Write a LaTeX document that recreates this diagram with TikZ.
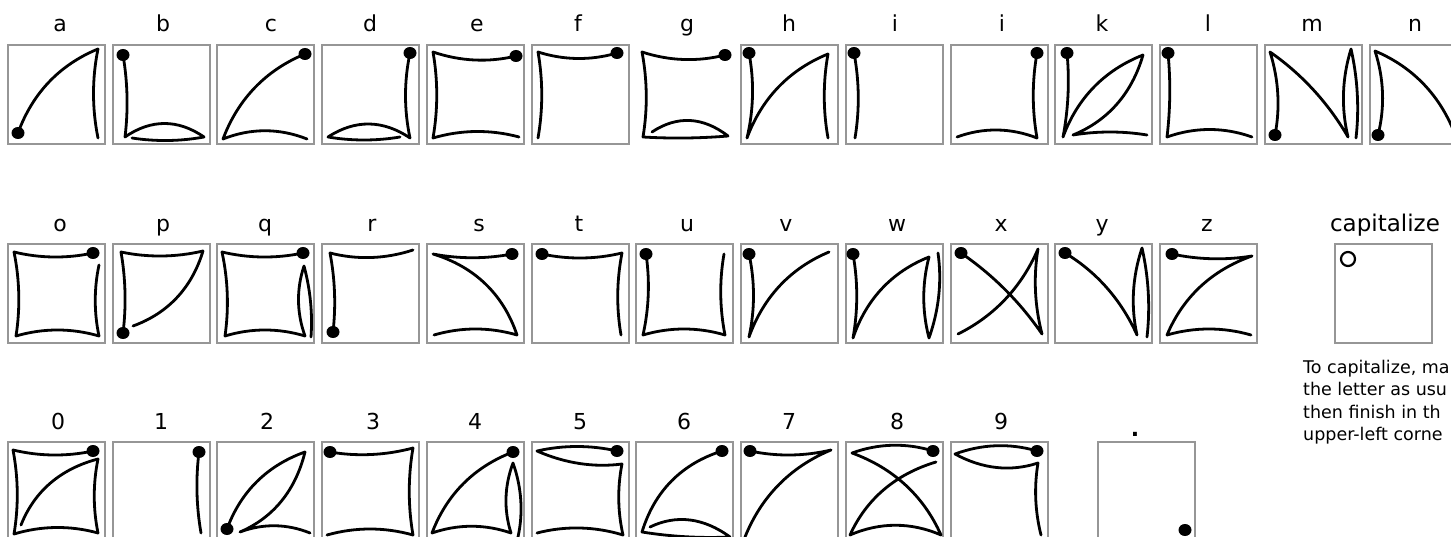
\documentclass[tikz,border=0pt]{standalone}
\usepackage{fontspec}
\setmainfont{DejaVu Sans}
\usetikzlibrary{calc}
\newcommand\crv[3]{.. controls ($#1!0.33!#2+#3-(0,0)$) and ($#1!0.67!#2+#3-(0,0)$) .. #2}
\tikzset{
  frame/.style={draw={rgb,255:red,150;green,150;blue,150}, line width=1.2pt},
  stk/.style={draw=black, line width=2.8pt, line cap=round, line join=round},
  lbl/.style={anchor=base, inner sep=0pt, font=\fontsize{22}{22}\selectfont},
  txt/.style={anchor=base west, inner sep=0pt, font=\fontsize{17.5}{17.5}\selectfont},
}
\newcommand\dotat[1]{\fill #1 circle[x radius=6.5, y radius=6];}
\begin{document}
\begin{tikzpicture}[x=1pt,y=-1pt]
\useasboundingbox (0,0) rectangle (1451,537);
\clip (0,0) rectangle (1451,537);
\fill[white] (0,0) rectangle (1451,537);
% ---------------- labels row 1
\node[lbl] (la) at (60,32) {a};
\node[lbl] (lb) at (163,32) {b};
\node[lbl] (lc) at (271,32) {c};
\node[lbl] (ld) at (370,32) {d};
\node[lbl] (le) at (477,32) {e};
\node[lbl] (lf) at (578,32) {f};
\node[lbl] (lg) at (687,32) {g};
\node[lbl] (lh) at (789,32) {h};
\node[lbl] (li) at (895,32) {i};
\node[lbl] (lj) at (1002,32) {i};
\node[lbl] (lk) at (1102,32) {k};
\node[lbl] (ll) at (1208,32) {l};
\node[lbl] (lm) at (1312,32) {m};
\node[lbl] (ln) at (1415,32) {n};
% ---------------- labels row 2
\node[lbl] (lo) at (60,232) {o};
\node[lbl] (lp) at (163,232) {p};
\node[lbl] (lq) at (265,232) {q};
\node[lbl] (lr) at (372,232) {r};
\node[lbl] (ls) at (479,232) {s};
\node[lbl] (lt) at (579,232) {t};
\node[lbl] (lu) at (687,232) {u};
\node[lbl] (lv) at (786,232) {v};
\node[lbl] (lw) at (897,232) {w};
\node[lbl] (lx) at (1001,232) {x};
\node[lbl] (ly) at (1102,232) {y};
\node[lbl] (lz) at (1207,232) {z};
\node[anchor=base, inner sep=0pt, font=\fontsize{23}{23}\selectfont] (lcap) at (1385,232) {capitalize};
% ---------------- labels row 3
\node[lbl] (l0) at (58,429) {0};
\node[lbl] (l1) at (161,429) {1};
\node[lbl] (l2) at (267,429) {2};
\node[lbl] (l3) at (373,429) {3};
\node[lbl] (l4) at (475,429) {4};
\node[lbl] (l5) at (580,429) {5};
\node[lbl] (l6) at (684,429) {6};
\node[lbl] (l7) at (789,429) {7};
\node[lbl] (l8) at (897,429) {8};
\node[lbl] (l9) at (1001,429) {9};
\node[lbl, font=\bfseries\fontsize{22}{22}\selectfont] (lper) at (1135,436) {.};
% ---------------- text
\node[txt] (t1) at (1303,373) {To capitalize, ma};
\node[txt] (t2) at (1303,395.5) {the letter as usu};
\node[txt] (t3) at (1303,418) {then finish in th};
\node[txt] (t4) at (1303,440.5) {upper-left corne};

% ================= ROW 1 (y=45)
\begin{scope}[shift={(8,45)}] % a
\draw[frame] (0,0) rectangle (97,99);
\dotat{(10,88)}
\draw[stk] (10,88) \crv{(10,88)}{(90,4)}{(-12,-12)} \crv{(90,4)}{(90,93)}{(-6,0)};
\end{scope}
\begin{scope}[shift={(113,45)}] % b
\draw[frame] (0,0) rectangle (97,99);
\dotat{(10,10)}
\draw[stk] (10,10) \crv{(10,10)}{(12,92)}{(4,0)} \crv{(12,92)}{(91,92)}{(0,-18)} \crv{(91,92)}{(19,93)}{(0,4)};
\end{scope}
\begin{scope}[shift={(217,45)}] % c
\draw[frame] (0,0) rectangle (97,99);
\dotat{(88,9)}
\draw[stk] (88,9) \crv{(88,9)}{(6,94)}{(-12,-12)} \crv{(6,94)}{(90,94)}{(0,-11)};
\end{scope}
\begin{scope}[shift={(322,45)}] % d
\draw[frame] (0,0) rectangle (97,99);
\dotat{(88,8)}
\draw[stk] (88,8) \crv{(88,8)}{(88,93)}{(-6,0)} \crv{(88,93)}{(6,92)}{(0,-18)} \crv{(6,92)}{(78,92)}{(0,4)};
\end{scope}
\begin{scope}[shift={(427,45)}] % e
\draw[frame] (0,0) rectangle (97,99);
\dotat{(89,11)}
\draw[stk] (89,11) \crv{(89,11)}{(6,7)}{(0,8)} \crv{(6,7)}{(6,93)}{(5,0)} \crv{(6,93)}{(92,92)}{(0,-8)};
\end{scope}
\begin{scope}[shift={(532,45)}] % f
\draw[frame] (0,0) rectangle (97,99);
\dotat{(85,8)}
\draw[stk] (85,8) \crv{(85,8)}{(6,7)}{(0,8)} \crv{(6,7)}{(6,93)}{(5,0)};
\end{scope}
\begin{scope}[shift={(636,45)}] % g (no frame)
\dotat{(89,10)}
\draw[stk] (89,10) \crv{(89,10)}{(6,7)}{(0,8)} \crv{(6,7)}{(7,92)}{(5,0)} \crv{(7,92)}{(92,91)}{(0,2)} \crv{(92,91)}{(16,87)}{(0,-18)};
\end{scope}
\begin{scope}[shift={(741,45)}] % h
\draw[frame] (0,0) rectangle (97,99);
\dotat{(8,8)}
\draw[stk] (8,8) \crv{(8,8)}{(6,93)}{(6,0)} \crv{(6,93)}{(87,9)}{(-12,-12)} \crv{(87,9)}{(87,93)}{(-5,0)};
\end{scope}
\begin{scope}[shift={(846,45)}] % i
\draw[frame] (0,0) rectangle (97,99);
\dotat{(8,8)}
\draw[stk] (8,8) \crv{(8,8)}{(9,93)}{(5,0)};
\end{scope}
\begin{scope}[shift={(951,45)}] % i (second)
\draw[frame] (0,0) rectangle (97,99);
\dotat{(86,8)}
\draw[stk] (86,8) \crv{(86,8)}{(86,93)}{(-5,0)} \crv{(86,93)}{(6,92)}{(0,-10)};
\end{scope}
\begin{scope}[shift={(1055,45)}] % k
\draw[frame] (0,0) rectangle (97,99);
\dotat{(12,8)}
\draw[stk] (12,8) \crv{(12,8)}{(8,92)}{(4,0)} \crv{(8,92)}{(88,10)}{(-12,-12)} \crv{(88,10)}{(18,90)}{(12,12)} \crv{(18,90)}{(92,90)}{(0,-4)};
\end{scope}
\begin{scope}[shift={(1160,45)}] % l
\draw[frame] (0,0) rectangle (97,99);
\dotat{(8,8)}
\draw[stk] (8,8) \crv{(8,8)}{(7,92)}{(3,0)} \crv{(7,92)}{(92,92)}{(0,-10)};
\end{scope}
\begin{scope}[shift={(1265,45)}] % m
\draw[frame] (0,0) rectangle (97,99);
\dotat{(10,90)}
\draw[stk] (10,90) \crv{(10,90)}{(5,7)}{(7,0)} \crv{(5,7)}{(83,92)}{(6,-6)} \crv{(83,92)}{(86,4)}{(-8,0)} \crv{(86,4)}{(91,93)}{(5,0)};
\end{scope}
\begin{scope}[shift={(1370,45)}] % n
\draw[frame] (0,0) rectangle (97,99);
\dotat{(8,90)}
\draw[stk] (8,90) \crv{(8,90)}{(5,6)}{(8,0)} \crv{(5,6)}{(86,92)}{(12,-12)} \crv{(86,92)}{(88,8)}{(-5,0)};
\end{scope}

% ================= ROW 2 (y=244)
\begin{scope}[shift={(8,244)}] % o
\draw[frame] (0,0) rectangle (97,99);
\dotat{(85,9)}
\draw[stk] (85,9) \crv{(85,9)}{(6,8)}{(0,6)} \crv{(6,8)}{(8,92)}{(5,0)} \crv{(8,92)}{(91,92)}{(0,-8)} \crv{(91,92)}{(91,21)}{(-5,0)};
\end{scope}
\begin{scope}[shift={(113,244)}] % p
\draw[frame] (0,0) rectangle (97,99);
\dotat{(10,89)}
\draw[stk] (10,89) \crv{(10,89)}{(8,8)}{(4,0)} \crv{(8,8)}{(90,7)}{(0,6)} \crv{(90,7)}{(20,82)}{(12,12)};
\end{scope}
\begin{scope}[shift={(217,244)}] % q
\draw[frame] (0,0) rectangle (97,99);
\dotat{(86,9)}
\draw[stk] (86,9) \crv{(86,9)}{(5,8)}{(0,6)} \crv{(5,8)}{(8,92)}{(5,0)} \crv{(8,92)}{(88,92)}{(0,-8)} \crv{(88,92)}{(87,22)}{(-8,0)} \crv{(87,22)}{(94,93)}{(4,0)};
\end{scope}
\begin{scope}[shift={(322,244)}] % r
\draw[frame] (0,0) rectangle (97,99);
\dotat{(11,88)}
\draw[stk] (11,88) \crv{(11,88)}{(8,9)}{(4,0)} \crv{(8,9)}{(91,6)}{(0,8)};
\end{scope}
\begin{scope}[shift={(427,244)}] % s
\draw[frame] (0,0) rectangle (97,99);
\dotat{(85,10)}
\draw[stk] (85,10) \crv{(85,10)}{(6,10)}{(0,5)} \crv{(6,10)}{(90,91)}{(14,-14)} \crv{(90,91)}{(7,91)}{(0,-8)};
\end{scope}
\begin{scope}[shift={(532,244)}] % t
\draw[frame] (0,0) rectangle (97,99);
\dotat{(10,10)}
\draw[stk] (10,10) \crv{(10,10)}{(90,9)}{(0,6)} \crv{(90,9)}{(89,91)}{(-5,0)};
\end{scope}
\begin{scope}[shift={(636,244)}] % u
\draw[frame] (0,0) rectangle (97,99);
\dotat{(10,10)}
\draw[stk] (10,10) \crv{(10,10)}{(7,91)}{(5,0)} \crv{(7,91)}{(89,91)}{(0,-8)} \crv{(89,91)}{(88,10)}{(-5,0)};
\end{scope}
\begin{scope}[shift={(741,244)}] % v
\draw[frame] (0,0) rectangle (97,99);
\dotat{(8,10)}
\draw[stk] (8,10) \crv{(8,10)}{(8,93)}{(6,0)} \crv{(8,93)}{(88,8)}{(-12,-12)};
\end{scope}
\begin{scope}[shift={(846,244)}] % w
\draw[frame] (0,0) rectangle (97,99);
\dotat{(7,10)}
\draw[stk] (7,10) \crv{(7,10)}{(7,94)}{(5,0)} \crv{(7,94)}{(83,13)}{(-12,-12)} \crv{(83,13)}{(83,94)}{(-7,0)} \crv{(83,94)}{(92,9)}{(7,0)};
\end{scope}
\begin{scope}[shift={(951,244)}] % x
\draw[frame] (0,0) rectangle (97,99);
\dotat{(10,9)}
\draw[stk] (10,9) \crv{(10,9)}{(91,90)}{(5,-5)} \crv{(91,90)}{(87,5)}{(-6,0)} \crv{(87,5)}{(7,90)}{(10,10)};
\end{scope}
\begin{scope}[shift={(1055,244)}] % y
\draw[frame] (0,0) rectangle (97,99);
\dotat{(10,9)}
\draw[stk] (10,9) \crv{(10,9)}{(82,91)}{(8,-8)} \crv{(82,91)}{(87,4)}{(-8,0)} \crv{(87,4)}{(92,93)}{(5,0)};
\end{scope}
\begin{scope}[shift={(1160,244)}] % z
\draw[frame] (0,0) rectangle (97,99);
\dotat{(12,10)}
\draw[stk] (12,10) \crv{(12,10)}{(92,12)}{(0,5)} \crv{(92,12)}{(7,91)}{(-12,-12)} \crv{(7,91)}{(91,91)}{(0,-8)};
\end{scope}
\begin{scope}[shift={(1335,244)}] % capitalize
\draw[frame] (0,0) rectangle (97,99);
\draw[line width=2.2pt] (13,15) circle[radius=7];
\end{scope}

% ================= ROW 3 (y=442)
\begin{scope}[shift={(8,442)}] % 0
\draw[frame] (0,0) rectangle (97,99);
\dotat{(85,9)}
\draw[stk] (85,9) \crv{(85,9)}{(5,8)}{(0,6)} \crv{(5,8)}{(6,92)}{(5,0)} \crv{(6,92)}{(90,91)}{(0,-8)} \crv{(90,91)}{(90,17)}{(-5,0)} \crv{(90,17)}{(13,83)}{(-12,-12)};
\end{scope}
\begin{scope}[shift={(113,442)}] % 1
\draw[frame] (0,0) rectangle (97,99);
\dotat{(86,10)}
\draw[stk] (86,10) \crv{(86,10)}{(88,91)}{(-4,0)};
\end{scope}
\begin{scope}[shift={(217,442)}] % 2
\draw[frame] (0,0) rectangle (97,99);
\dotat{(10,87)}
\draw[stk] (10,87) \crv{(10,87)}{(88,10)}{(-12,-12)} \crv{(88,10)}{(23,90)}{(12,12)} \crv{(23,90)}{(93,91)}{(0,-9)};
\end{scope}
\begin{scope}[shift={(322,442)}] % 3
\draw[frame] (0,0) rectangle (97,99);
\dotat{(8,10)}
\draw[stk] (8,10) \crv{(8,10)}{(91,6)}{(0,6)} \crv{(91,6)}{(91,93)}{(-5,0)} \crv{(91,93)}{(5,93)}{(0,-8)};
\end{scope}
\begin{scope}[shift={(427,442)}] % 4
\draw[frame] (0,0) rectangle (97,99);
\dotat{(86,10)}
\draw[stk] (86,10) \crv{(86,10)}{(5,91)}{(-12,-12)} \crv{(5,91)}{(84,91)}{(0,-9)} \crv{(84,91)}{(86,21)}{(-8,0)} \crv{(86,21)}{(91,95)}{(7,0)};
\end{scope}
\begin{scope}[shift={(532,442)}] % 5
\draw[frame] (0,0) rectangle (97,99);
\dotat{(85,9)}
\draw[stk] (85,9) \crv{(85,9)}{(5,9)}{(0,-6)} \crv{(5,9)}{(90,22)}{(0,8)} \crv{(90,22)}{(91,93)}{(-5,0)} \crv{(91,93)}{(5,91)}{(0,-8)};
\end{scope}
\begin{scope}[shift={(636,442)}] % 6
\draw[frame] (0,0) rectangle (97,99);
\dotat{(86,9)}
\draw[stk] (86,9) \crv{(86,9)}{(6,90)}{(-14,-14)} \crv{(6,90)}{(94,95)}{(0,3)} \crv{(94,95)}{(14,85)}{(0,-16)};
\end{scope}
\begin{scope}[shift={(741,442)}] % 7
\draw[frame] (0,0) rectangle (97,99);
\dotat{(9,9)}
\draw[stk] (9,9) \crv{(9,9)}{(90,8)}{(0,6)} \crv{(90,8)}{(4,95)}{(-12,-12)};
\end{scope}
\begin{scope}[shift={(846,442)}] % 8
\draw[frame] (0,0) rectangle (97,99);
\dotat{(87,9)}
\draw[stk] (87,9) \crv{(87,9)}{(6,11)}{(0,-9)} \crv{(6,11)}{(95,93)}{(12,-12)} \crv{(95,93)}{(4,93)}{(0,-13)} \crv{(4,93)}{(90,20)}{(-12,-12)};
\end{scope}
\begin{scope}[shift={(951,442)}] % 9
\draw[frame] (0,0) rectangle (97,99);
\dotat{(86,9)}
\draw[stk] (86,9) \crv{(86,9)}{(4,12)}{(0,-9)} \crv{(4,12)}{(87,21)}{(0,12)} \crv{(87,21)}{(90,93)}{(-5,0)};
\end{scope}
\begin{scope}[shift={(1098,442)}] % period
\draw[frame] (0,0) rectangle (97,99);
\dotat{(87,88)}
\end{scope}
\end{tikzpicture}
\end{document}
